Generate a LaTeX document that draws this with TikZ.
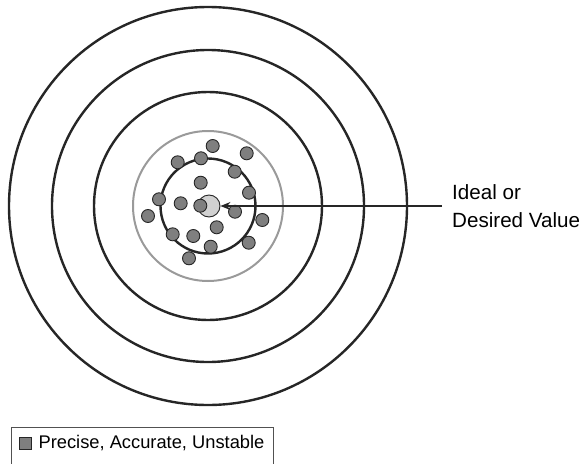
\documentclass[tikz,border=0pt]{standalone}
\usepackage{fontspec}
\setmainfont{Liberation Sans}
\usetikzlibrary{arrows.meta,positioning}

\definecolor{dotgray}{HTML}{7F7F7F}
\definecolor{ringgray}{HTML}{9A9A9A}
\definecolor{inkdark}{HTML}{262626}

\begin{document}
\begin{tikzpicture}[x=1pt, y=-1pt,
  ring/.style={draw=inkdark, line width=2.4pt},
  shot/.style={circle, draw=inkdark, line width=0.9pt, fill=dotgray, inner sep=0pt, minimum size=13pt}]
\useasboundingbox (0,0) rectangle (583,463);
\clip (0,0) rectangle (583,463);

% Rings
\draw[ring] (208,206) circle (199);
\draw[ring] (208,206) circle (156);
\draw[ring] (208,206) circle (114);
\draw[draw=ringgray, line width=2pt] (208,206) circle (75);
\draw[ring] (208,206) circle (47.5);

% Bull's eye
\node[circle, draw=inkdark, line width=0.9pt, fill=black!18, inner sep=0pt, minimum size=22pt] (bull) at (209,206) {};

% Shots
\foreach \px/\py [count=\i] in {212.7/146, 246.7/153.3, 201/158.3, 177.7/162.3, 234.7/171.7,
    200.7/182.7, 249/192.7, 159/199.3, 180.7/203.3, 200.3/205.7, 235/211.7, 148/216,
    262.3/220, 216.7/227.3, 172.7/234.3, 193.3/236, 248.7/242.7, 210.7/246.7, 189/258.3}
  \node[shot] (shot\i) at (\px,\py) {};

% Label and pointer
\node[anchor=west, align=left, font=\fontsize{20.6}{28}\selectfont, inner sep=0pt] (ideal) at (452,206) {Ideal or\\Desired Value};
\coordinate (lineend) at ([xshift=-10pt]ideal.west);
\draw[-{Stealth[length=10pt, width=8pt]}, line width=1.1pt, draw=inkdark] (lineend) -- (bull.east);

% Legend
\node[draw=inkdark!80, line width=1.1pt, anchor=north west, minimum width=262pt, minimum height=50pt, inner sep=0pt] (legend) at (11,427) {};
\node[draw=inkdark, line width=0.8pt, fill=dotgray, inner sep=0pt, minimum size=12pt] (swatch) at (25,443) {};
\node[right=7pt of swatch, font=\fontsize{18.3}{21}\selectfont, inner sep=0pt] (legendtext) {Precise, Accurate, Unstable};
\end{tikzpicture}
\end{document}
